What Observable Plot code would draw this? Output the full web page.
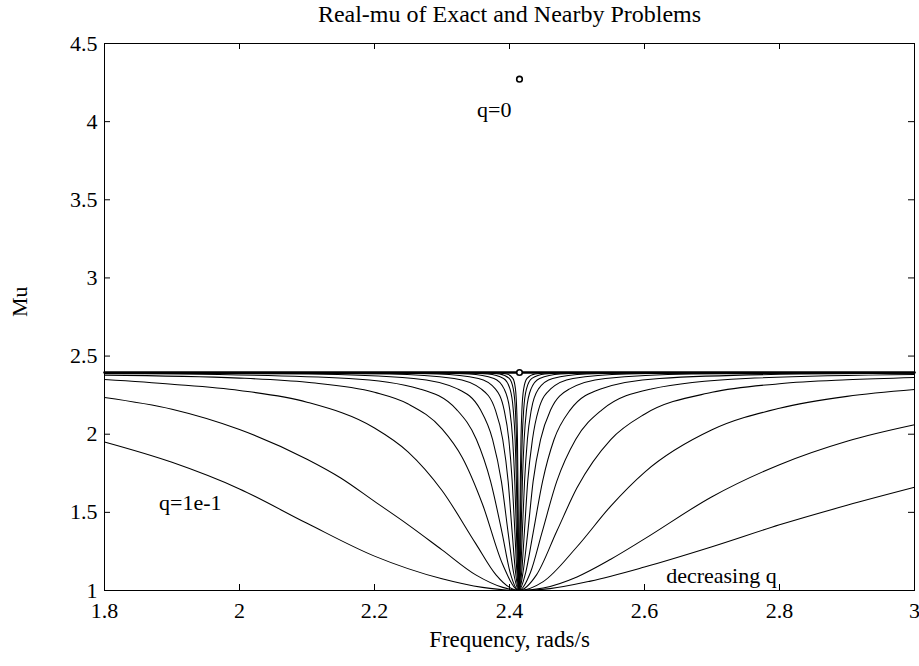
<!DOCTYPE html>
<html>
<head>
<meta charset="utf-8">
<script src="https://cdn.jsdelivr.net/npm/d3@7"></script>
<script src="https://cdn.jsdelivr.net/npm/@observablehq/plot@0.6"></script>
<style>
  html, body { margin: 0; padding: 0; background: #fff; }
  #chart svg { display: block; }
</style>
</head>
<body>
<div id="chart"></div>
<script>
const titleText = "Real-mu of Exact and Nearby Problems";
const xLabel = "Frequency, rads/s";
const yLabel = "Mu";
const xTicks = [1.8, 2, 2.2, 2.4, 2.6, 2.8, 3];
const yTicks = [1, 1.5, 2, 2.5, 3, 3.5, 4, 4.5];

// curves, from largest q (1e-1) to smallest
const curve1 = [[1.8,1.95],[1.9,1.82],[2.0,1.65],[2.1,1.43],[2.2,1.22],[2.3,1.075],[2.36,1.02],[2.414,1.0],[2.46,1.012],[2.52,1.06],[2.6,1.15],[2.7,1.28],[2.8,1.42],[2.9,1.545],[3.0,1.66]];
const curve2 = [[1.8,2.235],[1.9,2.16],[2.0,2.03],[2.1,1.84],[2.15,1.72],[2.2,1.57],[2.25,1.42],[2.3,1.26],[2.35,1.10],[2.39,1.02],[2.414,1.0],[2.45,1.016],[2.5,1.087],[2.55,1.2],[2.6,1.33],[2.7,1.6],[2.8,1.805],[2.9,1.955],[3.0,2.06]];
const curve3 = [[1.8,2.35],[1.9,2.32],[2.0,2.28],[2.1,2.205],[2.2,2.04],[2.25,1.886],[2.3,1.64],[2.35,1.30],[2.38,1.10],[2.4,1.02],[2.414,1.0],[2.45,1.057],[2.5,1.28],[2.55,1.54],[2.6,1.756],[2.7,2.028],[2.8,2.166],[2.9,2.242],[3.0,2.286]];
const curve4 = [[1.8,2.378],[2.0,2.359],[2.1,2.332],[2.2,2.268],[2.25,2.193],[2.3,2.034],[2.33,1.851],[2.36,1.552],[2.39,1.166],[2.414,1.0],[2.44,1.10],[2.47,1.379],[2.5,1.657],[2.55,1.966],[2.6,2.128],[2.7,2.268],[2.8,2.323],[2.9,2.348],[3.0,2.363]];
const curve5 = [[1.8,2.388],[1.91,2.385],[2.162,2.357],[2.267,2.29],[2.322,2.156],[2.351,1.966],[2.372,1.698],[2.389,1.369],[2.401,1.115],[2.414,1.0],[2.431,1.115],[2.448,1.369],[2.47,1.698],[2.498,1.966],[2.537,2.156],[2.61,2.29],[2.75,2.357],[3.0,2.382]];
const curve6 = [[1.8,2.3925],[2.102,2.385],[2.258,2.357],[2.323,2.29],[2.357,2.156],[2.375,1.966],[2.388,1.698],[2.398,1.369],[2.406,1.115],[2.414,1.0],[2.424,1.115],[2.435,1.369],[2.449,1.698],[2.466,1.966],[2.49,2.156],[2.535,2.29],[2.622,2.357],[2.829,2.385],[3.0,2.39]];
const curve7 = [[1.8,2.394],[2.014,2.3928],[2.222,2.385],[2.318,2.357],[2.358,2.29],[2.379,2.156],[2.39,1.966],[2.398,1.698],[2.404,1.369],[2.409,1.115],[2.414,1.0],[2.42,1.115],[2.427,1.369],[2.435,1.698],[2.446,1.966],[2.461,2.156],[2.489,2.29],[2.542,2.357],[2.67,2.385],[2.947,2.3928],[3.0,2.394]];
const curve8 = [[1.8,2.395],[2.164,2.3928],[2.294,2.385],[2.354,2.357],[2.379,2.29],[2.392,2.156],[2.399,1.966],[2.404,1.698],[2.408,1.369],[2.411,1.115],[2.414,1.0],[2.418,1.115],[2.422,1.369],[2.427,1.698],[2.434,1.966],[2.443,2.156],[2.461,2.29],[2.494,2.357],[2.574,2.385],[2.747,2.3928],[3.0,2.395]];
const curve9 = [[1.8,2.395],[2.259,2.3928],[2.34,2.385],[2.377,2.357],[2.392,2.29],[2.4004,2.156],[2.4047,1.966],[2.4078,1.698],[2.4103,1.369],[2.4121,1.115],[2.414,1.0],[2.4165,1.115],[2.419,1.369],[2.4223,1.698],[2.4265,1.966],[2.4323,2.156],[2.443,2.29],[2.464,2.357],[2.514,2.385],[2.62,2.3928],[3.0,2.395]];
const curve10 = [[1.8,2.395],[2.319,2.3928],[2.368,2.385],[2.3912,2.357],[2.4007,2.29],[2.4056,2.156],[2.4083,1.966],[2.4102,1.698],[2.4117,1.369],[2.4129,1.115],[2.414,1.0],[2.4155,1.115],[2.4171,1.369],[2.4191,1.698],[2.4217,1.966],[2.4252,2.156],[2.4319,2.29],[2.4446,2.357],[2.4752,2.385],[2.5415,2.3928],[3.0,2.395]];
const curve11 = [[1.8,2.395],[2.354,2.3928],[2.3852,2.385],[2.3996,2.357],[2.4056,2.29],[2.4087,2.156],[2.4104,1.966],[2.4116,1.698],[2.4126,1.369],[2.4133,1.115],[2.414,1.0],[2.415,1.115],[2.4159,1.369],[2.4172,1.698],[2.4188,1.966],[2.421,2.156],[2.4252,2.29],[2.4332,2.357],[2.4524,2.385],[2.494,2.3928],[3.0,2.395]];
const curve12 = [[1.8,2.395],[2.3765,2.3928],[2.396,2.385],[2.405,2.357],[2.4088,2.29],[2.4107,2.156],[2.4118,1.966],[2.4125,1.698],[2.4131,1.369],[2.4136,1.115],[2.414,1.0],[2.4146,1.115],[2.4152,1.369],[2.416,1.698],[2.417,1.966],[2.4184,2.156],[2.421,2.29],[2.426,2.357],[2.438,2.385],[2.464,2.3928],[3.0,2.395]];
const plateau = [[1.8,2.395],[3.0,2.395]];
const markers = [[2.4148,4.272],[2.4148,2.395]];
const labels = [
  {text: "q=0", x: 2.3775, y: 4.076},
  {text: "q=1e-1", x: 1.927, y: 1.559},
  {text: "decreasing q", x: 2.714, y: 1.09}
];

const curves = [curve1, curve2, curve3, curve4, curve5, curve6, curve7, curve8, curve9, curve10, curve11, curve12];
const lineData = curves.flatMap((c, i) => c.map(([x, y]) => ({x, y, q: i})));
const plateauData = plateau.map(([x, y]) => ({x, y}));
const markerData = markers.map(([x, y]) => ({x, y}));

const W = 919, H = 666;
const mL = 104, mR = 5, mT = 43, mB = 76;
const innerW = W - mL - mR, innerH = H - mT - mB;
const font = "Liberation Serif, Times New Roman, serif";

const chart = Plot.plot({
  width: W,
  height: H,
  marginLeft: mL,
  marginRight: mR,
  marginTop: mT,
  marginBottom: mB,
  style: {fontFamily: font, fontSize: "22px", background: "#fff", color: "#000"},
  x: {domain: [1.8, 3]},
  y: {domain: [1, 4.5]},
  marks: [
    Plot.line(lineData, {x: "x", y: "y", z: "q", stroke: "#000", strokeWidth: 1.05, curve: "monotone-x"}),
    Plot.line(plateauData, {x: "x", y: "y", stroke: "#000", strokeWidth: 2.6}),
    Plot.dot(markerData, {x: "x", y: "y", r: 2.8, stroke: "#000", strokeWidth: 1.6, fill: "#fff"}),
    Plot.text(labels, {x: "x", y: "y", text: "text", fontSize: 22, fill: "#000"}),
    Plot.frame({stroke: "#000", strokeWidth: 1}),
    Plot.tickX(xTicks, {x: d => d, insetTop: innerH - 6, stroke: "#000"}),
    Plot.tickX(xTicks, {x: d => d, insetBottom: innerH - 6, stroke: "#000"}),
    Plot.tickY(yTicks, {y: d => d, insetRight: innerW - 6, stroke: "#000"}),
    Plot.tickY(yTicks, {y: d => d, insetLeft: innerW - 6, stroke: "#000"}),
    Plot.axisX({ticks: xTicks, tickSize: 0, tickPadding: 12, tickFormat: d3.format("~g"), fontSize: 22, label: null}),
    Plot.axisY({ticks: yTicks, tickSize: 0, tickPadding: 7, tickFormat: d3.format("~g"), fontSize: 22, label: null}),
    Plot.text([titleText], {frameAnchor: "top", dy: -22, lineAnchor: "bottom", fontSize: 24, fill: "#000"}),
    Plot.text([xLabel], {frameAnchor: "bottom", dy: 56, lineAnchor: "bottom", fontSize: 23, fill: "#000"}),
    Plot.text([yLabel], {frameAnchor: "left", dx: -85, rotate: -90, fontSize: 22, fill: "#000"})
  ]
});
document.getElementById("chart").appendChild(chart);
</script>
</body>
</html>
